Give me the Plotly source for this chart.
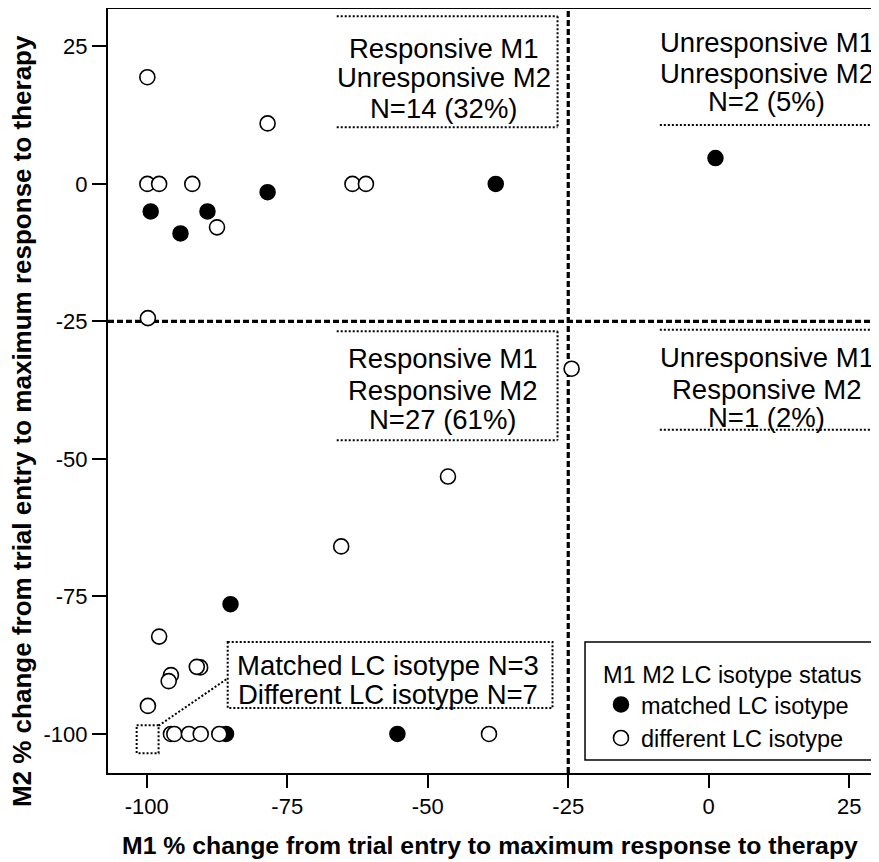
import plotly.graph_objects as go

# ---- data ----
m1_matched = [-99.3, -94.0, -89.2, -78.5, -37.9, 1.2, -85.1, -85.9, -55.4]
m2_matched = [-5.0, -9.0, -5.0, -1.5, 0.0, 4.7, -76.4, -100.0, -100.0]

m1_diff = [-99.9, -78.5, -99.9, -97.8, -91.9, -87.5, -63.4, -61.0, -99.8,
           -24.4, -46.4, -65.4, -97.8, -95.7, -96.1, -90.5, -91.1, -99.8,
           -95.7, -95.1, -92.5, -90.4, -87.1, -39.1]
m2_diff = [19.4, 11.0, 0.0, 0.0, 0.0, -7.9, 0.0, 0.0, -24.4,
           -33.6, -53.2, -65.9, -82.3, -89.3, -90.4, -87.9, -87.8, -94.9,
           -100.0, -100.0, -100.0, -100.0, -100.0, -100.0]

tick_vals = [-100, -75, -50, -25, 0, 25]
tick_text = ["-100", "-75", "-50", "-25", "0", "25"]
threshold = -25

quadrant_texts = {
    "ul": ["Responsive M1", "Unresponsive M2", "N=14 (32%)"],
    "ll": ["Responsive M1", "Responsive M2", "N=27 (61%)"],
    "ur": ["Unresponsive M1", "Unresponsive M2", "N=2 (5%)"],
    "lr": ["Unresponsive M1", "Responsive M2", "N=1 (2%)"],
}
isotype_texts = ["Matched LC isotype N=3", "Different LC isotype N=7"]
x_title = "M1 % change from trial entry to maximum response to therapy"
y_title = "M2 % change from trial entry to maximum response to therapy"
legend_title = "M1 M2 LC isotype status"

FONT = "Liberation Sans, Arial, sans-serif"

fig = go.Figure()
fig.add_trace(go.Scatter(
    x=m1_matched, y=m2_matched, mode="markers", name="matched LC isotype",
    marker=dict(symbol="circle", size=15, color="black",
                line=dict(color="black", width=1.5)),
))
fig.add_trace(go.Scatter(
    x=m1_diff, y=m2_diff, mode="markers", name="different LC isotype",
    marker=dict(symbol="circle", size=15, color="white",
                line=dict(color="black", width=1.6)),
))

shapes = []
dash_thr = dict(color="black", width=3.2, dash="6px,3px")
shapes.append(dict(type="line", xref="x", yref="paper", x0=threshold, x1=threshold,
                   y0=0, y1=1, line=dash_thr, layer="below"))
shapes.append(dict(type="line", xref="paper", yref="y", x0=0, x1=1,
                   y0=threshold, y1=threshold, line=dash_thr, layer="below"))

dot = dict(color="black", width=2, dash="2px,2px")

def seg(x0, y0, x1, y1, xref="x", yref="y"):
    shapes.append(dict(type="line", xref=xref, yref=yref, x0=x0, y0=y0,
                       x1=x1, y1=y1, line=dot))

# upper-left bracket box
seg(-66.2, 30.5, -26.9, 30.5)
seg(-26.9, 30.5, -26.9, 10.3)
seg(-66.2, 10.3, -26.9, 10.3)
# lower-left bracket box
seg(-66.2, -26.8, -26.9, -26.8)
seg(-26.9, -26.8, -26.9, -46.6)
seg(-66.2, -46.6, -26.9, -46.6)
# upper-right line
seg(-8.7, 10.7, 30.3, 10.7)
# lower-right lines
seg(-8.7, -26.5, 30.3, -26.5)
seg(-8.7, -44.7, 30.3, -44.7)
# isotype box
shapes.append(dict(type="rect", xref="x", yref="y", x0=-85.6, x1=-27.8,
                   y0=-83.3, y1=-95.3, line=dot, fillcolor="rgba(0,0,0,0)"))
# small box at (-100,-100)
shapes.append(dict(type="rect", xref="x", yref="y", x0=-101.8, x1=-97.9,
                   y0=-98.4, y1=-103.5, line=dot, fillcolor="rgba(0,0,0,0)"))
# connector
seg(-97.9, -98.5, -85.6, -89.9)
# legend frame
shapes.append(dict(type="rect", xref="paper", yref="paper", x0=0.6187, x1=0.9987,
                   y0=0.017, y1=0.1715, line=dict(color="black", width=1.5),
                   fillcolor="rgba(0,0,0,0)"))

annotations = []
def lines(texts, x, ys, size=27.5):
    for t, yy in zip(texts, ys):
        annotations.append(dict(x=x, y=yy, xref="x", yref="y", text=t,
                                showarrow=False, xanchor="center", yanchor="middle",
                                font=dict(family=FONT, size=size, color="black")))

lines(quadrant_texts["ul"], -47.1, [24.7, 19.3, 13.8])
lines(quadrant_texts["ll"], -47.2, [-31.8, -37.6, -42.9])
lines(quadrant_texts["ur"], 10.3, [25.8, 20.0, 14.9])
lines(quadrant_texts["lr"], 10.3, [-31.5, -37.3, -42.4])
lines(isotype_texts, -57.1, [-87.5, -92.9])

annotations.append(dict(x=0.4955, y=-0.0955, xref="paper", yref="paper",
                        text="<b>" + x_title + "</b>", showarrow=False,
                        xanchor="center", yanchor="middle",
                        font=dict(family=FONT, size=24.8, color="black")))
annotations.append(dict(x=-0.1115, y=0.4607, xref="paper", yref="paper",
                        text="<b>" + y_title + "</b>", showarrow=False,
                        textangle=-90, xanchor="center", yanchor="middle",
                        borderpad=0,
                        font=dict(family=FONT, size=26, color="black")))

# the page adds an 8px body margin, so the figure is offset by 8px
fig.update_layout(
    width=879, height=862,
    margin=dict(l=100, r=8, t=1, b=97),
    paper_bgcolor="white", plot_bgcolor="white",
    font=dict(family=FONT, size=22, color="black"),
    shapes=shapes, annotations=annotations,
    showlegend=True,
    legend=dict(
        x=0.6394, y=0.1583, xanchor="left", yanchor="top",
        borderwidth=0, bgcolor="rgba(0,0,0,0)",
        font=dict(family=FONT, size=23.5, color="black"),
        title=dict(text=legend_title,
                   font=dict(family=FONT, size=23.5, color="black")),
        tracegroupgap=0, itemsizing="trace",
    ),
    xaxis=dict(
        range=[-106.9, 30.3], tickvals=tick_vals, ticktext=tick_text,
        ticks="outside", ticklen=13, tickwidth=2, tickcolor="black",
        showline=True, linewidth=2, linecolor="black", mirror=True,
        showgrid=False, zeroline=False, automargin=False,
        tickfont=dict(family=FONT, size=22),
    ),
    yaxis=dict(
        range=[-107.1, 31.8], tickvals=tick_vals, ticktext=tick_text,
        ticks="outside", ticklen=14, tickwidth=2, tickcolor="black",
        showline=True, linewidth=2, linecolor="black", mirror=False,
        showgrid=False, zeroline=False, automargin=False,
        tickfont=dict(family=FONT, size=22),
    ),
)

fig.write_html("out.html")
